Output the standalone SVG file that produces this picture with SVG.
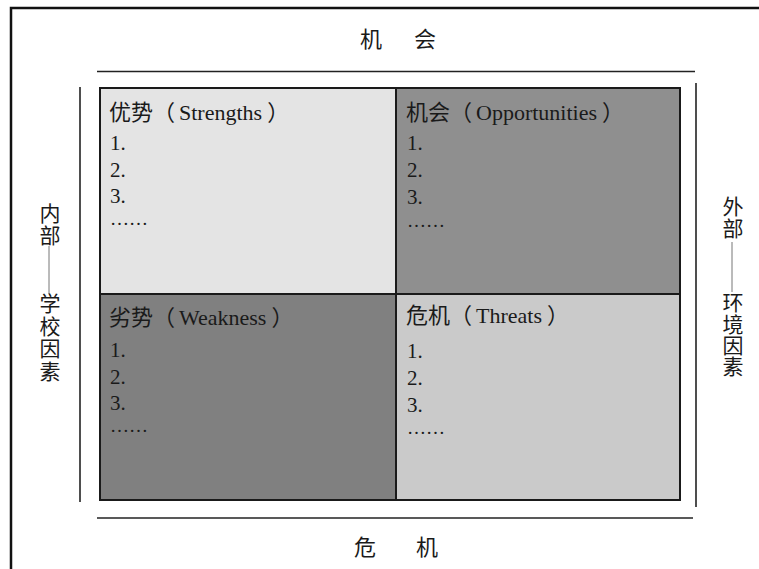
<svg xmlns="http://www.w3.org/2000/svg" width="759" height="569" viewBox="0 0 759 569">
<style>
.t{font-family:"Liberation Serif","Noto Sans CJK SC",serif;font-size:22px;fill:#1a1a1a}
.n{font-family:"Liberation Serif","Noto Sans CJK SC",serif;font-size:21px;fill:#1a1a1a}
.d{font-size:19px}
.h{font-family:"Noto Sans CJK SC",sans-serif;font-size:22px;fill:#1a1a1a}
.v{font-family:"Noto Sans CJK SC",sans-serif;font-size:21px;fill:#1a1a1a;writing-mode:vertical-rl}
.ln{stroke:#222;stroke-width:1.6;fill:none}
.q{stroke:#1a1a1a;stroke-width:2}
</style>
<rect x="0" y="0" width="759" height="569" fill="#ffffff"/>
<g id="frame">
<path d="M11 569 V8 H759" fill="none" stroke="#111" stroke-width="2.5"/>
</g>
<g id="connectors">
<line class="ln" x1="97" y1="71.5" x2="695" y2="71.5"/>
<line class="ln" x1="97" y1="518" x2="693" y2="518"/>
<line class="ln" x1="80" y1="87" x2="80" y2="502"/>
<line class="ln" x1="696" y1="83" x2="696" y2="507"/>
<line x1="49" y1="246" x2="49" y2="294" stroke="#777" stroke-width="1"/>
<line x1="732" y1="242" x2="732" y2="292" stroke="#777" stroke-width="1"/>
</g>
<g id="top-label"><text class="h" x="360" y="47" style="word-spacing:27px">机 会</text></g>
<g id="bottom-label"><text class="h" x="354" y="555" style="word-spacing:35px">危 机</text></g>
<g id="left-label">
<text class="v" x="50" y="203" style="letter-spacing:1px">内部</text>
<text class="v" x="50" y="293" style="letter-spacing:1.5px">学校因素</text>
</g>
<g id="right-label">
<text class="v" x="733" y="196" style="letter-spacing:1px">外部</text>
<text class="v" x="733" y="292" style="letter-spacing:0.3px">环境因素</text>
</g>
<g id="strengths">
<rect x="100" y="88" width="296" height="206" fill="#e4e4e4" class="q"/>
<text class="t" x="109" y="120">优势（<tspan dx="4">Strengths</tspan><tspan dx="5">）</tspan></text>
<text class="n"><tspan x="110" y="150">1.</tspan><tspan x="110" y="177">2.</tspan><tspan x="110" y="203">3.</tspan><tspan class="d" x="110" y="225">……</tspan></text>
</g>
<g id="opportunities">
<rect x="396" y="88" width="284" height="206" fill="#8f8f8f" class="q"/>
<text class="t" x="406" y="120">机会（<tspan dx="4">Opportunities</tspan><tspan dx="5">）</tspan></text>
<text class="n"><tspan x="407" y="150">1.</tspan><tspan x="407" y="177">2.</tspan><tspan x="407" y="204">3.</tspan><tspan class="d" x="407" y="227">……</tspan></text>
</g>
<g id="weakness">
<rect x="100" y="294" width="296" height="206" fill="#808080" class="q"/>
<text class="t" x="109" y="325">劣势（<tspan dx="4">Weakness</tspan><tspan dx="5">）</tspan></text>
<text class="n"><tspan x="110" y="357">1.</tspan><tspan x="110" y="384">2.</tspan><tspan x="110" y="410">3.</tspan><tspan class="d" x="110" y="432">……</tspan></text>
</g>
<g id="threats">
<rect x="396" y="294" width="284" height="206" fill="#cacaca" class="q"/>
<text class="t" x="406" y="323">危机（<tspan dx="4">Threats</tspan><tspan dx="5">）</tspan></text>
<text class="n"><tspan x="407" y="358">1.</tspan><tspan x="407" y="385">2.</tspan><tspan x="407" y="412">3.</tspan><tspan class="d" x="407" y="434">……</tspan></text>
</g>
</svg>
